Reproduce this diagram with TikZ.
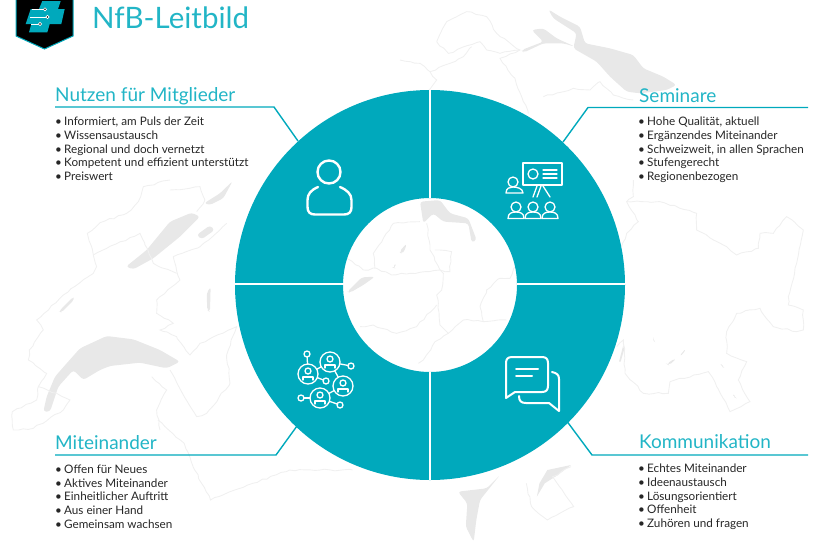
\documentclass[tikz,border=0pt]{standalone}
\usepackage{fontspec}
\usetikzlibrary{decorations.pathmorphing}
\setmainfont{Lato}
\definecolor{nfbteal}{HTML}{00A9BC}
\definecolor{nfbhead}{HTML}{22B5C6}
\definecolor{maplake}{HTML}{E8E8E8}
\definecolor{mapline}{HTML}{F0F0F0}
\definecolor{listgrey}{HTML}{262626}
\newcommand{\bul}{\textbullet\hspace{2.2pt}}
\tikzset{
  heading/.style={anchor=base west,inner sep=0pt,text=nfbhead,font=\fontsize{19}{20}\selectfont},
  bullets/.style={anchor=north west,inner sep=0pt,align=left,text=listgrey,font=\fontsize{11.7}{13.6}\selectfont},
  leader/.style={draw=nfbteal,line width=1.4pt},
  icon/.style={draw=white,line width=1.3pt,line cap=round,line join=round},
  lake/.style={fill=maplake,draw=none,rounded corners=3pt},
  border/.style={draw=mapline,line width=0.9pt,decorate,decoration={random steps,segment length=5pt,amplitude=0.9pt}},
  netperson/.pic={
    \draw[icon] (0,0) circle[radius=10pt];
    \draw[icon] (0,-3) circle[radius=3pt];
    \draw[icon] (-5,6) -- (-5,3) -- (5,3) -- (5,6);
  }
}
\begin{document}
\begin{tikzpicture}[x=1pt,y=-1pt]
\useasboundingbox (0,0) rectangle (816,542);

% map, lakes first
\begin{scope}[shift={(400,0)},scale=0.3333]
\fill[lake] (445,28) -- (480,50) -- (540,80) -- (555,130) -- (630,145) -- (700,165) -- (730,205) -- (790,230) -- (830,255) -- (800,270) -- (720,280) -- (680,275) -- (630,230) -- (590,185) -- (520,145) -- (530,100) -- (460,55) -- cycle;
\fill[lake] (395,90) -- (430,85) -- (470,115) -- (525,140) -- (490,130) -- (430,130) -- (370,158) -- (365,150) -- (430,125) -- cycle;
\draw[border] (110,125) -- (140,65) -- (200,35) -- (260,50) -- (290,100) -- (360,150) -- (300,175) -- (345,235) -- (365,290) -- (385,340);
\draw[border] (110,125) -- (145,160) -- (240,125) -- (260,150) -- (300,160) -- (360,150);
\draw[border] (0,180) -- (60,190) -- (90,215) -- (150,190) -- (190,170) -- (215,140);
\draw[border] (90,215) -- (110,240) -- (85,272);
\draw[border] (430,290) -- (520,265) -- (570,270) -- (600,245) -- (640,285) -- (700,300);
\end{scope}
\begin{scope}[shift={(0,180)},scale=0.3333]
\fill[lake] (130,695) -- (140,650) -- (165,590) -- (200,550) -- (240,505) -- (320,468) -- (400,478) -- (480,510) -- (540,545) -- (500,565) -- (420,548) -- (330,558) -- (300,570) -- (250,600) -- (220,570) -- (175,620) -- (150,695) -- cycle;
\fill[lake] (378,260) -- (440,210) -- (510,125) -- (575,98) -- (600,110) -- (540,170) -- (460,235) -- (400,268) -- cycle;
\fill[lake] (590,165) -- (630,136) -- (644,150) -- (605,178) -- cycle;
\fill[lake] (612,70) -- (660,40) -- (698,3) -- (670,55) -- (630,75) -- cycle;
\fill[lake] (176,395) -- (220,350) -- (222,360) -- (185,397) -- cycle;
\fill[lake] (620,340) -- (632,320) -- (630,395) -- (622,392) -- cycle;
\draw[border] (85,540) -- (88,510) -- (130,450) -- (110,420) -- (190,345) -- (280,280) -- (290,260) -- (280,225) -- (262,160) -- (300,128) -- (380,100) -- (415,65) -- (430,20) -- (510,0);
\draw[border] (280,225) -- (420,160) -- (435,195) -- (460,250) -- (530,280);
\draw[border] (85,540) -- (140,580) -- (115,620) -- (170,640) -- (210,660) -- (190,690) -- (100,745) -- (40,750) -- (37,695) -- (110,660) -- (115,620);
\draw[border] (455,590) -- (500,630) -- (470,690) -- (480,750);
\draw[border] (510,570) -- (590,710) -- (620,700) -- (690,610) -- (680,525) -- (710,440) -- (600,490) -- (570,525) -- (530,470) -- (480,450) -- (520,430) -- (470,400) -- (470,360) -- (540,300) -- (520,230) -- (600,200) -- (680,130);
\draw[border] (510,30) -- (600,20) -- (615,60) -- (590,95);
\end{scope}
\begin{scope}[shift={(600,180)},scale=0.3333]
\fill[lake] (160,475) -- (168,490) -- (160,480) -- cycle;
\fill[lake] (200,552) -- (225,535) -- (222,545) -- (205,555) -- cycle;
\fill[lake] (238,528) -- (258,505) -- (250,522) -- cycle;
\fill[lake] (360,548) -- (375,565) -- (365,560) -- cycle;
\fill[lake] (398,640) -- (410,655) -- (402,652) -- cycle;
\fill[lake,rounded corners=0pt] (57,545) -- (70,495) -- (72,510) -- (62,545) -- cycle;
\draw[border] (100,0) -- (100,50) -- (80,65) -- (115,125) -- (80,160) -- (65,200);
\draw[border] (80,65) -- (180,65) -- (290,100) -- (290,150) -- (380,200) -- (410,225) -- (475,205) -- (480,160) -- (520,160) -- (560,110) -- (610,150) -- (590,250) -- (565,350) -- (565,375) -- (610,390) -- (610,450) -- (590,455) -- (520,440) -- (480,385) -- (410,400) -- (380,455) -- (380,520) -- (440,545) -- (415,600) -- (450,665) -- (390,695) -- (350,620) -- (325,575) -- (210,605) -- (205,640) -- (130,640) -- (75,580) -- (70,480) -- (50,500);
\end{scope}
\begin{scope}[shift={(340,190)},scale=0.3333]
\fill[lake] (240,35) -- (300,30) -- (330,70) -- (385,85) -- (410,150) -- (395,158) -- (385,100) -- (310,95) -- (280,70) -- (250,100) -- cycle;
\fill[lake] (22,305) -- (65,262) -- (105,260) -- (70,285) -- (30,308) -- cycle;
\fill[lake] (178,185) -- (200,160) -- (195,180) -- (185,192) -- cycle;
\fill[lake] (158,232) -- (168,218) -- (165,235) -- cycle;
\draw[border] (20,205) -- (70,240) -- (110,235) -- (155,255) -- (210,250) -- (300,240) -- (310,250) -- (305,300) -- (290,315) -- (295,340) -- (300,405) -- (325,430) -- (285,455) -- (250,510) -- (235,520);
\draw[border] (60,410) -- (100,405) -- (170,430) -- (230,410) -- (290,345);
\draw[border] (300,240) -- (270,180) -- (260,100);
\draw[border] (105,235) -- (100,190) -- (130,145) -- (160,100) -- (240,95);
\draw[border] (285,180) -- (335,185) -- (330,245) -- (300,240);
\draw[border] (325,430) -- (370,390) -- (430,395) -- (500,390);
\draw[border] (430,395) -- (420,350) -- (440,300) -- (480,265) -- (510,265) -- (525,230);
\end{scope}
\begin{scope}[shift={(0,420)},xscale=0.5263,yscale=0.3333]
\fill[lake] (950,165) -- (925,205) -- (870,215) -- (888,250) -- (885,320) -- (900,366) -- (905,300) -- (912,240) -- cycle;
\fill[lake,rounded corners=0pt] (1085,135) -- (1040,150) -- (1025,190) -- (1020,230) -- (1035,190) -- (1060,165) -- cycle;
\draw[border] (300,0) -- (350,70) -- (370,150) -- (400,240) -- (480,190) -- (550,150) -- (670,150);
\draw[border] (1000,190) -- (1010,260) -- (1040,300) -- (1090,260) -- (1050,170) -- (1085,140);
\end{scope}

% ring
\fill[nfbteal,even odd rule] (430,285) circle[radius=195pt] (430,285) circle[radius=87pt];
\draw[white,line width=1.4pt] (430,90) -- (430,198);
\draw[white,line width=1.4pt] (430,372) -- (430,480);
\draw[white,line width=1.4pt] (235,284) -- (344,284);
\draw[white,line width=1.4pt] (517,284) -- (625,284);

% logo
\fill[black,draw=nfbteal,line width=1pt] (16,-2) -- (16,36) -- (44.5,49) -- (73,36) -- (73,-2) -- cycle;
\fill[nfbteal] (30.7,9) -- (39,9) -- (42.3,1) -- (60.7,1) -- (58,9) -- (64.7,9) -- (61.3,24) -- (49.7,24) -- (47.3,32.3) -- (29,32.3) -- (31.3,24) -- (25.7,24) -- cycle;
\draw[white,line width=0.5pt] (32,9.3) -- (45,9.3) (30,17) -- (47.5,17) (40,24) -- (31,24);
\filldraw[fill=black,draw=white,line width=0.6pt] (45,9.3) circle[radius=1.6pt] (47.5,17) circle[radius=1.6pt] (40,24) circle[radius=1.6pt];
\draw (92,28) node[anchor=base west,inner sep=0pt,text=nfbhead,font=\fontsize{29.5}{30}\selectfont] (leitbild) {NfB-Leitbild};

% corner labels
\draw (55,101) node[heading] (nutzen) {Nutzen für Mitglieder};
\draw (639,102) node[heading] (seminare) {Seminare};
\draw (55,449) node[heading] (miteinander) {Miteinander};
\draw (639,448) node[heading] (kommunikation) {Kommunikation};

\draw (55,117) node[bullets] (nutzenlist) {\bul Informiert, am Puls der Zeit\\\bul Wissensaustausch\\\bul Regional und doch vernetzt\\\bul Kompetent und effizient unterstützt\\\bul Preiswert};
\draw (638,117) node[bullets] (seminarelist) {\bul Hohe Qualität, aktuell\\\bul Ergänzendes Miteinander\\\bul Schweizweit, in allen Sprachen\\\bul Stufengerecht\\\bul Regionenbezogen};
\draw (55,465) node[bullets] (miteinanderlist) {\bul Offen für Neues\\\bul Aktives Miteinander\\\bul Einheitlicher Auftritt\\\bul Aus einer Hand\\\bul Gemeinsam wachsen};
\draw (638,464) node[bullets] (kommunikationlist) {\bul Echtes Miteinander\\\bul Ideenaustausch\\\bul Lösungsorientiert\\\bul Offenheit\\\bul Zuhören und fragen};

% leaders
\coordinate (nutzenA) at (55,107);
\coordinate (nutzenB) at (274,107);
\coordinate (nutzenC) at (298,141);
\coordinate (seminareA) at (808,107.5);
\coordinate (seminareB) at (588,107.5);
\coordinate (seminareC) at (563,142);
\coordinate (miteinanderA) at (55,455);
\coordinate (miteinanderB) at (276,455);
\coordinate (miteinanderC) at (297,426);
\coordinate (kommunikationA) at (808,455);
\coordinate (kommunikationB) at (592,455);
\coordinate (kommunikationC) at (566,420);
\foreach \leadname in {nutzen,seminare,miteinander,kommunikation}
  \draw[leader] (\leadname A) -- (\leadname B) -- (\leadname C);

% member icon
\draw[icon,line width=2.4pt] (329,172) circle[radius=11.5pt];
\draw[icon,line width=2.4pt] (318,187) .. controls (311,190) and (307.5,194) .. (307.5,200) -- (307.5,207) .. controls (307.5,212) and (310,214.5) .. (315,214.5) -- (344,214.5) .. controls (349,214.5) and (351.5,212) .. (351.5,207) -- (351.5,200) .. controls (351.5,194) and (347,190) .. (340,187);

% seminar icon
\draw[icon] (523,163) rectangle (562,185);
\draw[icon] (533,174) circle[radius=5pt];
\draw[icon] (543,170) -- (557,170) (543,174) -- (557,174) (543,178) -- (557,178);
\draw[icon] (537,186) -- (533,197) (541,186) -- (537,197) (543,186) -- (550,197);
\draw[icon] (513,182) circle[radius=5pt];
\draw[icon] (506,193) .. controls (506,188) and (510,187) .. (513,187) .. controls (516,187) and (523,188) .. (523,193) -- cycle;
\foreach \seatx in {516,533,550}{
  \draw[icon] (\seatx,207) circle[radius=5pt];
  \draw[icon] (\seatx-8,218.5) .. controls (\seatx-8,213) and (\seatx-4,212) .. (\seatx,212) .. controls (\seatx+4,212) and (\seatx+8,213) .. (\seatx+8,218.5) -- cycle;
}

% network icon
\coordinate (netA) at (330,362);
\coordinate (netB) at (308,374);
\coordinate (netC) at (343,386);
\coordinate (netD) at (320,398);
\foreach \smallx/\smally/\bigname in {307/354/netB,351/366/netA,326/381/netB,301/398/netD,340/405/netD}{
  \coordinate (netdot) at (\smallx,\smally);
  \draw[icon,shorten >=10pt,shorten <=2.5pt] (netdot) -- (\bigname);
  \draw[icon] (netdot) circle[radius=3pt];
}
\draw[icon,shorten >=10pt,shorten <=10pt] (netA) -- (netB);
\draw[icon,shorten >=10pt,shorten <=10pt] (netA) -- (netC);
\draw[icon,shorten >=10pt,shorten <=10pt] (netC) -- (netD);
\foreach \netname in {netA,netB,netC,netD}
  \pic at (\netname) {netperson};

% chat icon
\draw[icon,line width=2pt] (506,398) -- (506,363) .. controls (506,359) and (508,357) .. (512,357) -- (542,357) .. controls (546,357) and (548,359) .. (548,363) -- (548,386) .. controls (548,390) and (546,392) .. (542,392) -- (515,392) -- cycle;
\draw[icon,line width=2pt] (516,369) -- (538,369) (516,376) -- (532,376);
\draw[icon,line width=2pt] (552,372) .. controls (557,373) and (559,375) .. (559,379) -- (559,411) -- (549,403) -- (526,403) .. controls (521,403) and (519,401) .. (519,396);
\end{tikzpicture}
\end{document}
